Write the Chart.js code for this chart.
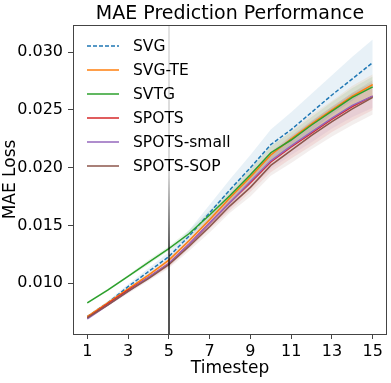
<!DOCTYPE html>
<html>
<head>
<meta charset="utf-8">
<script src="https://cdn.jsdelivr.net/npm/chart.js@4.4.1/dist/chart.umd.min.js"></script>
<style>
  html, body { margin: 0; padding: 0; background: #fff; }
  #wrap { width: 391px; height: 383px; }
</style>
</head>
<body>
<div id="wrap"><canvas id="chart" width="391" height="383"></canvas></div>
<script>
    'use strict';

    // values
    const timesteps = [1, 2, 3, 4, 5, 6, 7, 8, 9, 10, 11, 12, 13, 14, 15];
    const seriesNames = ['SVG', 'SVG-TE', 'SVTG', 'SPOTS', 'SPOTS-small', 'SPOTS-SOP'];
    const seriesColors = ['#1f77b4', '#ff7f0e', '#2ca02c', '#d62728', '#9467bd', '#8c564b'];

    const svgMean        = [0.0071, 0.0083, 0.0097, 0.0110, 0.0123, 0.0141, 0.0161, 0.0181, 0.0200, 0.0220, 0.0233, 0.0248, 0.0263, 0.0277, 0.0291];
    const svgTeMean      = [0.0071, 0.0083, 0.0095, 0.0107, 0.0120, 0.0137, 0.0155, 0.0174, 0.0192, 0.0211, 0.0225, 0.0238, 0.0250, 0.0262, 0.0272];
    const svtgMean       = [0.0083, 0.0094, 0.0106, 0.0118, 0.0130, 0.0143, 0.0159, 0.0176, 0.0194, 0.0213, 0.0224, 0.0237, 0.0249, 0.0261, 0.0270];
    const spotsMean      = [0.0070, 0.0082, 0.0094, 0.0105, 0.0117, 0.0134, 0.0152, 0.0170, 0.0187, 0.0205, 0.0218, 0.0230, 0.0242, 0.0253, 0.0262];
    const spotsSmallMean = [0.0069, 0.0081, 0.0093, 0.0105, 0.0117, 0.0134, 0.0152, 0.0170, 0.0188, 0.0206, 0.0219, 0.0231, 0.0243, 0.0254, 0.0262];
    const spotsSopMean   = [0.0070, 0.0081, 0.0093, 0.0104, 0.0116, 0.0132, 0.0149, 0.0167, 0.0183, 0.0202, 0.0215, 0.0228, 0.0240, 0.0251, 0.0261];

    const svgStd        = [0.0001, 0.00015, 0.0002, 0.0003, 0.0004, 0.0005, 0.0007, 0.0009, 0.0011, 0.0013, 0.0015, 0.0016, 0.0017, 0.0019, 0.0020];
    const svgTeStd      = [0.0001, 0.0001, 0.0001, 0.0002, 0.0002, 0.0003, 0.0004, 0.0005, 0.0006, 0.0007, 0.0007, 0.0008, 0.0008, 0.0009, 0.0009];
    const svtgStd       = [0.0001, 0.0001, 0.0001, 0.0002, 0.0002, 0.0003, 0.0004, 0.0005, 0.0006, 0.0006, 0.0007, 0.0007, 0.0008, 0.0008, 0.0009];
    const spotsStd      = [0.0001, 0.0001, 0.00015, 0.0002, 0.0003, 0.0004, 0.0005, 0.0007, 0.0008, 0.0009, 0.0010, 0.0011, 0.0011, 0.0012, 0.0012];
    const spotsSmallStd = [0.0001, 0.0001, 0.00015, 0.0002, 0.0002, 0.0003, 0.0004, 0.0005, 0.0006, 0.0007, 0.0008, 0.0009, 0.0009, 0.0010, 0.0010];
    const spotsSopStd   = [0.0001, 0.0001, 0.0002, 0.0002, 0.0003, 0.0004, 0.0005, 0.0006, 0.0008, 0.0009, 0.0011, 0.0012, 0.0013, 0.0014, 0.0015];

    const seriesMeans = [svgMean, svgTeMean, svtgMean, spotsMean, spotsSmallMean, spotsSopMean];
    const seriesStds = [svgStd, svgTeStd, svtgStd, spotsStd, spotsSmallStd, spotsSopStd];

    const xTicks = [1, 3, 5, 7, 9, 11, 13, 15];
    const yTicks = [0.010, 0.015, 0.020, 0.025, 0.030];
    const markerStep = 5;

    const FONT = 'DejaVu Sans';

    function hexToRgba(hex, a) {
        const n = parseInt(hex.slice(1), 16);
        return 'rgba(' + (n >> 16) + ',' + ((n >> 8) & 255) + ',' + (n & 255) + ',' + a + ')';
    }

    function points(values) {
        return timesteps.map((t, i) => ({ x: t, y: values[i] }));
    }

    const datasets = [];

    // mean lines, last series on top like matplotlib
    seriesNames.forEach((name, i) => {
        datasets.push({
            label: name,
            data: points(seriesMeans[i]),
            borderColor: seriesColors[i],
            borderWidth: 1.5,
            borderDash: i === 0 ? [4, 2] : [],
            pointRadius: 0,
            tension: 0,
            fill: false,
            order: seriesNames.length - i
        });
    });

    // shaded bands, drawn underneath
    seriesNames.forEach((name, i) => {
        const upperIndex = datasets.length;
        datasets.push({
            label: name + ' upper',
            data: points(seriesMeans[i].map((m, k) => m + seriesStds[i][k])),
            borderWidth: 0,
            pointRadius: 0,
            fill: false,
            order: 20 + i
        });
        datasets.push({
            label: name + ' lower',
            data: points(seriesMeans[i].map((m, k) => m - seriesStds[i][k])),
            borderWidth: 0,
            pointRadius: 0,
            backgroundColor: hexToRgba(seriesColors[i], 0.1),
            fill: upperIndex,
            order: 20 + i
        });
    });

    const decorPlugin = {
        id: 'decor',
        afterDatasetsDraw(chart) {
            const ctx = chart.ctx;
            const area = chart.chartArea;
            const x = Math.round(chart.scales.x.getPixelForValue(markerStep));

            // vertical marker, faded where the legend sits
            const grad = ctx.createLinearGradient(0, area.top, 0, area.bottom);
            grad.addColorStop(0, 'rgba(0,0,0,0.15)');
            grad.addColorStop(0.48, 'rgba(0,0,0,0.2)');
            grad.addColorStop(0.72, 'rgba(0,0,0,0.85)');
            grad.addColorStop(1, 'rgba(0,0,0,0.9)');
            ctx.save();
            ctx.strokeStyle = grad;
            ctx.lineWidth = 1.5;
            ctx.beginPath();
            ctx.moveTo(x, area.top);
            ctx.lineTo(x, area.bottom);
            ctx.stroke();

            // axes frame
            ctx.strokeStyle = '#444';
            ctx.lineWidth = 1;
            ctx.strokeRect(Math.round(area.left) + 0.5, Math.round(area.top) + 0.5,
                Math.round(area.right - area.left) - 1, Math.round(area.bottom - area.top));
            ctx.restore();
        },
        afterDraw(chart) {
            const ctx = chart.ctx;
            const area = chart.chartArea;
            ctx.save();

            // title centred on the axes
            ctx.fillStyle = '#000';
            ctx.font = '19px "' + FONT + '"';
            ctx.textAlign = 'center';
            ctx.textBaseline = 'middle';
            ctx.fillText('MAE Prediction Performance', (area.left + area.right) / 2, 14);

            // legend, upper left
            ctx.font = '15.5px "' + FONT + '"';
            ctx.textAlign = 'left';
            seriesNames.forEach((name, i) => {
                const y = 46 + i * 24;
                ctx.strokeStyle = seriesColors[i];
                ctx.lineWidth = 1.5;
                ctx.setLineDash(i === 0 ? [4, 2] : []);
                ctx.beginPath();
                ctx.moveTo(area.left + 14, y);
                ctx.lineTo(area.left + 46, y);
                ctx.stroke();
                ctx.fillStyle = '#000';
                ctx.fillText(name, area.left + 60, y + 1);
            });
            ctx.restore();
        }
    };

    new Chart(document.getElementById('chart'), {
        type: 'line',
        data: { datasets: datasets },
        options: {
            responsive: false,
            animation: false,
            devicePixelRatio: 1,
            layout: { padding: { top: 25, right: 4, left: 0, bottom: 0 } },
            plugins: {
                legend: { display: false },
                title: { display: false },
                tooltip: { enabled: false }
            },
            scales: {
                x: {
                    type: 'linear',
                    min: 0.3,
                    max: 15.7,
                    afterBuildTicks: scale => { scale.ticks = xTicks.map(v => ({ value: v })); },
                    afterFit: scale => { scale.height = 49; },
                    ticks: {
                        color: '#000',
                        font: { family: FONT, size: 16 },
                        padding: 3,
                        maxRotation: 0,
                        autoSkip: false,
                        callback: v => String(v)
                    },
                    grid: { drawOnChartArea: false, drawTicks: true, tickLength: 5, color: '#444' },
                    border: { display: false },
                    title: {
                        display: true,
                        text: 'Timestep',
                        color: '#000',
                        font: { family: FONT, size: 17 },
                        padding: { top: 0, bottom: 4 }
                    }
                },
                y: {
                    type: 'linear',
                    min: 0.0056,
                    max: 0.03236,
                    afterBuildTicks: scale => { scale.ticks = yTicks.map(v => ({ value: v })); },
                    afterFit: scale => { scale.width = 73; },
                    ticks: {
                        color: '#000',
                        font: { family: FONT, size: 16 },
                        padding: 5,
                        callback: v => v.toFixed(3)
                    },
                    grid: { drawOnChartArea: false, drawTicks: true, tickLength: 5, color: '#444' },
                    border: { display: false },
                    title: {
                        display: true,
                        text: 'MAE Loss',
                        color: '#000',
                        font: { family: FONT, size: 17 },
                        padding: { top: 0, bottom: 0 }
                    }
                }
            }
        },
        plugins: [decorPlugin]
    });
</script>
</body>
</html>
